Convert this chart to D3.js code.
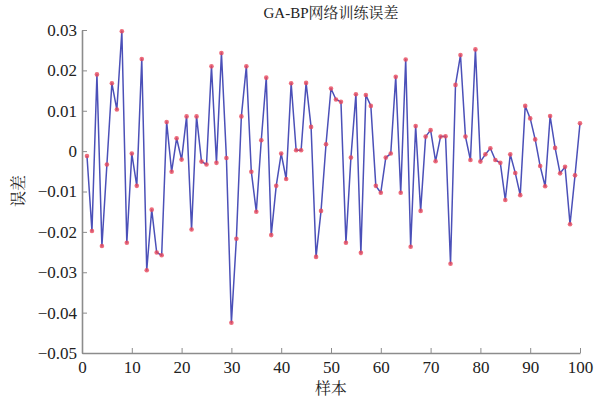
<!DOCTYPE html>
<html>
<head>
<meta charset="utf-8">
<script src="https://cdn.jsdelivr.net/npm/d3@7"></script>
<style>
  body { margin: 0; background: #fff; }
  svg text { fill: #222; }
  .num { font-family: "Liberation Serif", "Times New Roman", "DejaVu Serif", serif; }
  .cjk { font-family: "Liberation Serif", "Times New Roman", "Noto Serif CJK SC", "Noto Sans CJK SC", serif; }
</style>
</head>
<body>
<svg id="chart" width="612" height="402"></svg>
<script>
// training error of the GA-BP network, one value per sample (1..100)
var samples = d3.range(1, 101);
var errors = [
  -0.0012, -0.0198, 0.0190, -0.0235, -0.0033, 0.0168, 0.0103, 0.0297, -0.0227, -0.0006,
  -0.0086, 0.0228, -0.0295, -0.0145, -0.0251, -0.0258, 0.0072, -0.0051, 0.0032, -0.0021,
  0.0086, -0.0194, 0.0086, -0.0026, -0.0033, 0.0210, -0.0029, 0.0243, -0.0017, -0.0425,
  -0.0217, 0.0086, 0.0210, -0.0051, -0.0150, 0.0027, 0.0182, -0.0208, -0.0086, -0.0006,
  -0.0069, 0.0168, 0.0002, 0.0002, 0.0169, 0.0060, -0.0262, -0.0148, 0.0017, 0.0155,
  0.0128, 0.0122, -0.0227, -0.0016, 0.0141, -0.0252, 0.0139, 0.0112, -0.0086, -0.0103,
  -0.0016, -0.0006, 0.0184, -0.0103, 0.0227, -0.0237, 0.0062, -0.0148, 0.0036, 0.0052,
  -0.0025, 0.0036, 0.0037, -0.0279, 0.0164, 0.0238, 0.0036, -0.0022, 0.0252, -0.0026,
  -0.0008, 0.0007, -0.0022, -0.0029, -0.0121, -0.0008, -0.0054, -0.0109, 0.0112, 0.0081,
  0.0029, -0.0037, -0.0087, 0.0087, 0.0008, -0.0055, -0.0039, -0.0181, -0.0060, 0.0069
];
var xTicks = [0, 10, 20, 30, 40, 50, 60, 70, 80, 90, 100];
var yTicks = [-0.05, -0.04, -0.03, -0.02, -0.01, 0, 0.01, 0.02, 0.03];

var data = samples.map(function (s, i) { return { x: s, y: errors[i] }; });

const svg = d3.select("#chart"),
      margin = {top: 30, right: 32, bottom: 49, left: 82},
      width  = +svg.attr("width")  - margin.left - margin.right,
      height = +svg.attr("height") - margin.top  - margin.bottom,
      x = d3.scaleLinear().domain([0, 100]).range([0, width]),
      y = d3.scaleLinear().domain([-0.05, 0.03]).range([height, 0]),
      g = svg.append("g").attr("transform", `translate(${margin.left},${margin.top})`);

svg.insert("rect", ":first-child").attr("width", 612).attr("height", 402).attr("fill", "#fff");

// axes, ticks pointing into the plot like matlab
var xAxis = g.append("g")
    .attr("transform", `translate(0,${height})`)
    .call(d3.axisBottom(x).tickValues(xTicks).tickSizeInner(-5).tickSizeOuter(0).tickPadding(6));
var yAxis = g.append("g")
    .call(d3.axisLeft(y).tickValues(yTicks).tickSizeInner(-5).tickSizeOuter(0).tickPadding(5)
      .tickFormat(d => d === 0 ? "0" : d3.format(".2f")(d)));

[xAxis, yAxis].forEach(function (a) {
  a.attr("font-size", 17);
  a.select(".domain").attr("stroke", "#8c8c8c").attr("stroke-width", 1.6);
  a.selectAll(".tick line").attr("stroke", "#8c8c8c").attr("stroke-width", 1);
  a.selectAll(".tick text").attr("class", "num").attr("fill", "#222");
});
xAxis.selectAll(".tick text").attr("dy", "0.8em");

// error line
var line = d3.line().x(d => x(d.x)).y(d => y(d.y));
g.append("path")
  .datum(data)
  .attr("fill", "none")
  .attr("stroke", "#4b50b8")
  .attr("stroke-width", 1.5)
  .attr("stroke-linejoin", "round")
  .attr("d", line);

// red markers
g.selectAll(".pt")
  .data(data)
  .enter().append("circle")
  .attr("class", "pt")
  .attr("cx", d => x(d.x))
  .attr("cy", d => y(d.y))
  .attr("r", 2.3)
  .attr("fill", "#e8475a")
  .attr("opacity", 0.8);

// titles
svg.append("text")
  .attr("class", "cjk")
  .attr("x", margin.left + width / 2)
  .attr("y", 18)
  .attr("text-anchor", "middle")
  .style("font-size", "15px")
  .text("GA-BP网络训练误差");
svg.append("text")
  .attr("class", "cjk")
  .attr("x", margin.left + width / 2)
  .attr("y", 394)
  .attr("text-anchor", "middle")
  .style("font-size", "16px")
  .text("样本");
svg.append("text")
  .attr("class", "cjk")
  .attr("transform", "rotate(-90)")
  .attr("x", -191)
  .attr("y", 24)
  .attr("text-anchor", "middle")
  .style("font-size", "16px")
  .text("误差");
</script>
</body>
</html>
